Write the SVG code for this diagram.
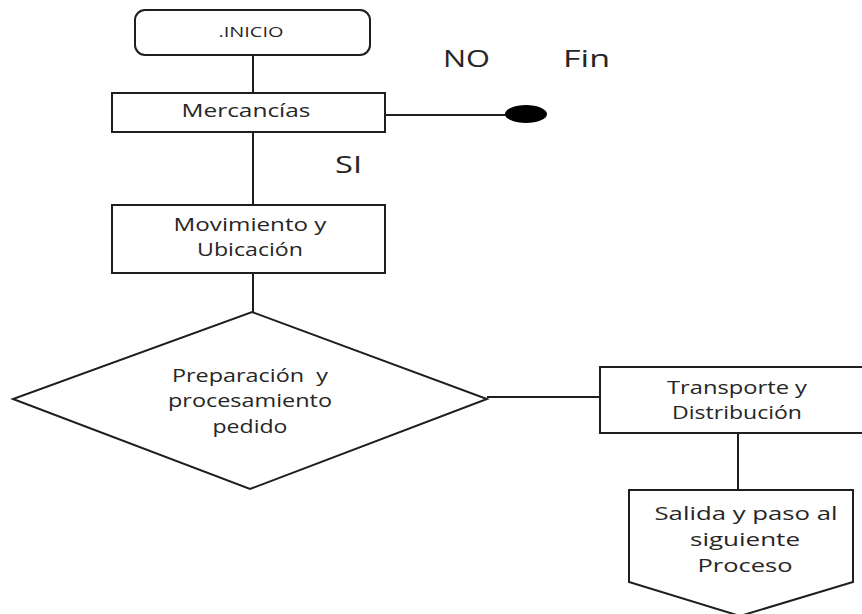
<svg xmlns="http://www.w3.org/2000/svg" width="862" height="614" viewBox="0 0 862 614">
<style>
.shape{fill:#fff;stroke:#1e1e1e;stroke-width:2}
.conn line{stroke:#1e1e1e;stroke-width:2}
text{font-family:"Open Sans","Liberation Sans",sans-serif;fill:#262626;text-anchor:middle}
.t{font-size:18px}
.big{font-size:24px;text-anchor:start}
</style>
<rect width="862" height="614" fill="#fff"/>
<g class="conn" id="connectors">
<line x1="253" y1="55" x2="253" y2="93"/>
<line x1="385" y1="115" x2="506" y2="115"/>
<line x1="253" y1="132" x2="253" y2="205"/>
<line x1="253" y1="273" x2="253" y2="312"/>
<line x1="487" y1="397" x2="600" y2="397"/>
<line x1="738" y1="434" x2="738" y2="490"/>
</g>
<g id="inicio">
<rect class="shape" x="135" y="10" width="235" height="45" rx="10"/>
<text x="251" y="37" font-size="14" textLength="65" lengthAdjust="spacingAndGlyphs">.INICIO</text>
</g>
<g id="mercancias">
<rect class="shape" x="112" y="93" width="273" height="39"/>
<text class="t" x="246" y="117" textLength="129" lengthAdjust="spacingAndGlyphs">Mercancías</text>
</g>
<g id="fin">
<ellipse cx="526" cy="114" rx="21" ry="9" fill="#000"/>
</g>
<text class="big" x="443" y="67" textLength="47" lengthAdjust="spacingAndGlyphs">NO</text>
<text class="big" x="563" y="67" textLength="47" lengthAdjust="spacingAndGlyphs">Fin</text>
<text class="big" x="335" y="173" textLength="27" lengthAdjust="spacingAndGlyphs">SI</text>
<g id="movimiento">
<rect class="shape" x="112" y="205" width="273" height="68"/>
<text class="t" x="250" y="231" textLength="153" lengthAdjust="spacingAndGlyphs">Movimiento y</text>
<text class="t" x="250" y="256" textLength="106" lengthAdjust="spacingAndGlyphs">Ubicación</text>
</g>
<g id="preparacion">
<polygon class="shape" points="252,312 487,399 250,489 13,399"/>
<text class="t" x="250" y="382" textLength="156" lengthAdjust="spacingAndGlyphs" xml:space="preserve" style="white-space:pre">Preparación  y</text>
<text class="t" x="250" y="407" textLength="164" lengthAdjust="spacingAndGlyphs">procesamiento</text>
<text class="t" x="250" y="433" textLength="75" lengthAdjust="spacingAndGlyphs">pedido</text>
</g>
<g id="transporte">
<rect class="shape" x="600" y="367" width="263" height="66"/>
<text class="t" x="737" y="394" textLength="140" lengthAdjust="spacingAndGlyphs">Transporte y</text>
<text class="t" x="737" y="419" textLength="130" lengthAdjust="spacingAndGlyphs">Distribución</text>
</g>
<g id="salida">
<polygon class="shape" points="629,490 853,490 853,582 740,616 629,582"/>
<text class="t" x="746" y="520" textLength="183" lengthAdjust="spacingAndGlyphs">Salida y paso al</text>
<text class="t" x="745" y="546" textLength="110" lengthAdjust="spacingAndGlyphs">siguiente</text>
<text class="t" x="745" y="572" textLength="95" lengthAdjust="spacingAndGlyphs">Proceso</text>
</g>
</svg>
